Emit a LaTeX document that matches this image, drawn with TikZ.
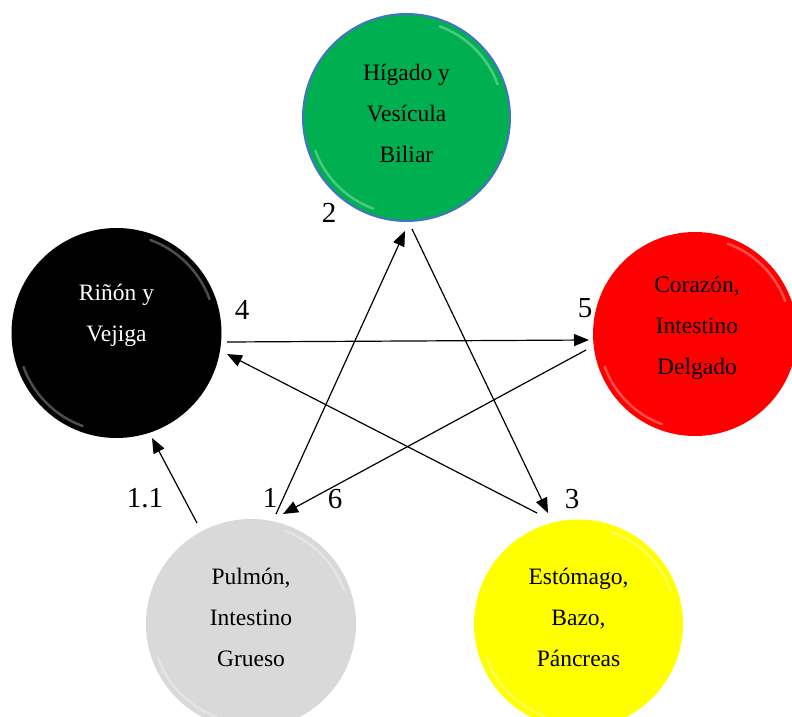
\documentclass[tikz,border=0pt]{standalone}
\usepackage{fontspec}
\setmainfont{Liberation Serif}
\usetikzlibrary{arrows.meta}
\definecolor{cgreen}{RGB}{0,176,80}
\definecolor{cblue}{RGB}{68,114,196}
\definecolor{cgray}{RGB}{217,217,217}
\definecolor{cyellow}{RGB}{255,255,0}
\definecolor{cred}{RGB}{255,0,0}
\tikzset{
  ball/.style={circle, inner sep=0pt},
  lbl/.style={align=center, font=\fontsize{23.5}{41}\selectfont, inner sep=0pt},
  num/.style={font=\fontsize{29}{32}\selectfont, inner sep=0pt},
  conn/.style={line width=1.2pt, -{Triangle[length=15pt,width=12pt]}},
  gloss/.style={line width=2.5pt, draw=white, draw opacity=0.3, line cap=round}
}
\begin{document}
\begin{tikzpicture}[x=1pt,y=-1pt]
\useasboundingbox (0,0) rectangle (792,717);
% circles
\node[ball, minimum size=207pt, fill=cgreen, draw=cblue, line width=2pt] (g) at (406.5,117.5) {};
\node[ball, minimum size=210pt, fill=black] (k) at (116.5,333) {};
\node[ball, minimum size=204pt, fill=cred] (r) at (695,334) {};
\node[ball, minimum size=210pt, fill=cgray] (p) at (251,624) {};
\node[ball, minimum size=209pt, fill=cyellow] (y) at (578.5,624) {};
% gloss rims (y axis is flipped, so visual angle v is written -v)
\foreach \cx/\cy/\rr in {406.5/117.5/97, 116.5/333/99, 695/334/96, 251/624/99, 578.5/624/98}{
  \draw[gloss] ([shift={(-20:\rr)}]\cx,\cy) arc[start angle=-20, end angle=-70, radius=\rr];
  \draw[gloss] ([shift={(-200:\rr)}]\cx,\cy) arc[start angle=-200, end angle=-250, radius=\rr];
}
% texts
\node[lbl] (tg) at (406.5,113) {Hígado y\\Vesícula\\Biliar};
\node[lbl, text=white] (tk) at (116.5,315) {Riñón y\\Vejiga};
\node[lbl] (tr) at (697,328) {Corazón,\\Intestino\\Delgado};
\node[lbl] (tp) at (251,617) {Pulmón,\\Intestino\\Grueso};
\node[lbl] (ty) at (578.5,617) {Estómago,\\Bazo,\\Páncreas};
% numbers
\node[num] (n2) at (329,213) {2};
\node[num] (n4) at (242,310) {4};
\node[num] (n5) at (585,308) {5};
\node[num] (n1) at (270,498) {1};
\node[num] (n6) at (335,499) {6};
\node[num] (n3) at (572,499) {3};
\node[num] (n11) at (145,498) {1.1};
% connector endpoints
\coordinate (a1) at (276,514);  \coordinate (b1) at (405,231);
\coordinate (a2) at (412,229);  \coordinate (b2) at (548,513);
\coordinate (a3) at (537,513);  \coordinate (b3) at (227,354);
\coordinate (a4) at (227,342);  \coordinate (b4) at (589,340);
\coordinate (a5) at (586,350);  \coordinate (b5) at (283,514);
\coordinate (a6) at (197,523);  \coordinate (b6) at (152,438);
% connectors
\draw[conn] (a1) -- (b1);
\draw[conn] (a2) -- (b2);
\draw[conn] (a3) -- (b3);
\draw[conn] (a4) -- (b4);
\draw[conn] (a5) -- (b5);
\draw[conn] (a6) -- (b6);
\end{tikzpicture}
\end{document}
